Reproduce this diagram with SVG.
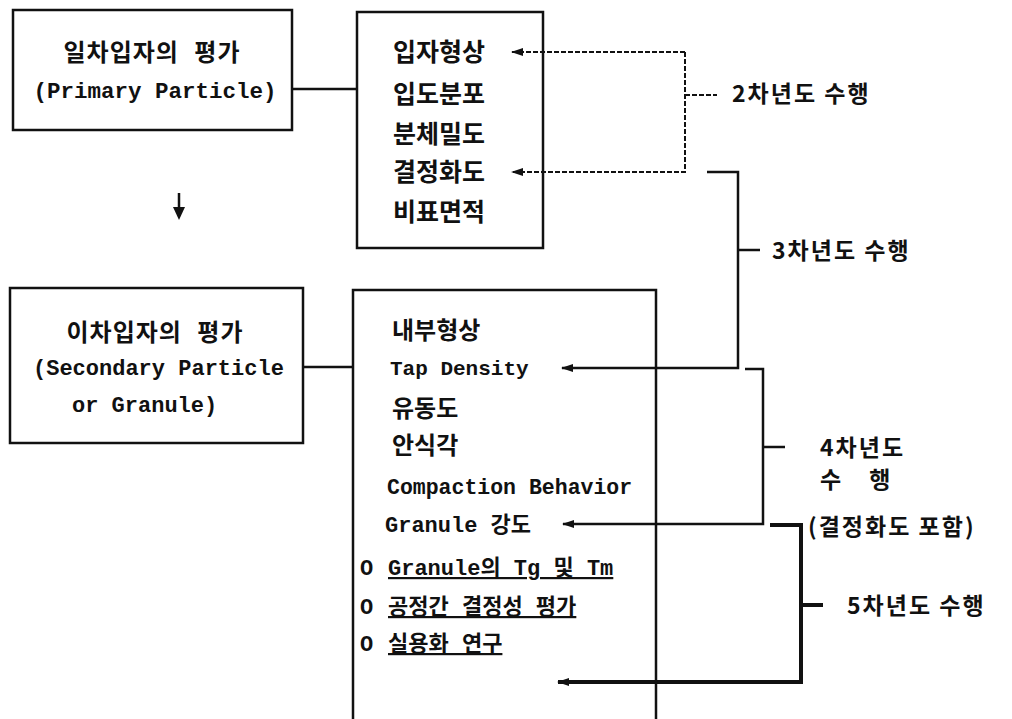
<svg xmlns="http://www.w3.org/2000/svg" width="1012" height="719" viewBox="0 0 1012 719">
<defs>
<style>
.box{fill:none;stroke:#111;stroke-width:2.5}
.ln{fill:none;stroke:#111;stroke-width:2.5}
.dot{fill:none;stroke:#111;stroke-width:2;stroke-dasharray:5 2}
.thick{fill:none;stroke:#111;stroke-width:4}
.ko{font-family:"Liberation Mono","Noto Sans CJK KR",monospace;font-weight:bold;fill:#111}
.en{font-family:"Liberation Mono","Noto Sans CJK KR",monospace;font-weight:bold;fill:#111}
.lab{font-family:"Noto Sans CJK KR","Noto Sans",sans-serif;font-weight:bold;fill:#111;font-size:23px;letter-spacing:2px}
.ul{text-decoration:underline}
</style>
<marker id="ah" viewBox="0 0 12 8" refX="11" refY="4" markerWidth="12" markerHeight="8" markerUnits="userSpaceOnUse" orient="auto">
<path d="M0,0 L12,4 L0,8 Z" fill="#111"/>
</marker>
</defs>

<g id="connectors">
<line class="ln" x1="292" y1="89" x2="357" y2="89"/>
<line class="ln" x1="303" y1="367" x2="353" y2="367"/>
<line class="ln" x1="179" y1="193" x2="179" y2="210"/>
<path d="M173,207 L185,207 L179,220 Z" fill="#111"/>
<!-- 2nd year -->
<path class="dot" d="M685,52 H512" marker-end="url(#ah)"/>
<path class="dot" d="M685,52 V172 H512" marker-end="url(#ah)"/>
<line class="dot" x1="685" y1="95" x2="717" y2="95"/>
<!-- 3rd year -->
<path class="ln" d="M707,172 H738 V368 H562" marker-end="url(#ah)"/>
<line class="ln" x1="738" y1="250" x2="760" y2="250"/>
<!-- 4th year -->
<path class="ln" d="M745,369 H763 V524 H563" marker-end="url(#ah)"/>
<line class="ln" x1="763" y1="447" x2="785" y2="447"/>
<!-- 5th year -->
<path class="thick" d="M770,525 H801 V682 H558" marker-end="url(#ah)"/>
<line class="thick" x1="801" y1="605" x2="823" y2="605"/>
</g>

<g id="primary">
<rect class="box" x="13" y="10" width="279" height="120"/>
<text class="ko" x="152" y="61" font-size="24" text-anchor="middle" letter-spacing="1">일차입자의 평가</text>
<text class="en" x="155" y="98" font-size="22.5" text-anchor="middle">(Primary Particle)</text>
</g>

<g id="primary-items">
<rect class="box" x="357" y="12" width="186" height="236"/>
<text class="ko" x="393" y="61" font-size="25">입자형상</text>
<text class="ko" x="393" y="103" font-size="25">입도분포</text>
<text class="ko" x="393" y="143" font-size="25">분체밀도</text>
<text class="ko" x="393" y="181" font-size="25">결정화도</text>
<text class="ko" x="393" y="221" font-size="25">비표면적</text>
</g>

<g id="secondary">
<rect class="box" x="10" y="288" width="293" height="155"/>
<text class="ko" x="155" y="341" font-size="24" text-anchor="middle" letter-spacing="1">이차입자의 평가</text>
<text class="en" x="33" y="375" font-size="22">(Secondary Particle</text>
<text class="en" x="72" y="412" font-size="22">or Granule)</text>
</g>

<g id="secondary-items">
<path class="box" d="M353,722 V290 H656 V722"/>
<text class="ko" x="392" y="339" font-size="24">내부형상</text>
<text class="en" x="390" y="375" font-size="21">Tap Density</text>
<text class="ko" x="392" y="417" font-size="24">유동도</text>
<text class="ko" x="392" y="454" font-size="24">안식각</text>
<text class="en" x="387" y="494" font-size="21.5" font-weight="normal">Compaction Behavior</text>
<text class="en" x="385" y="532" font-size="22">Granule 강도</text>
<text class="en" x="360" y="575" font-size="22">O</text>
<text class="en ul" x="388" y="575" font-size="22">Granule의 Tg 및 Tm</text>
<text class="en" x="360" y="614" font-size="22">O</text>
<text class="ko ul" x="388" y="614" font-size="22">공정간 결정성 평가</text>
<text class="en" x="360" y="651" font-size="22">O</text>
<text class="ko ul" x="388" y="651" font-size="22">실용화 연구</text>
</g>

<g id="labels">
<text class="lab" x="732" y="102">2차년도 수행</text>
<text class="lab" x="772" y="259">3차년도 수행</text>
<text class="lab" x="820" y="456">4차년도</text>
<text class="lab" x="820" y="488">수<tspan dx="26">행</tspan></text>
<text class="lab" x="808" y="535">(결정화도 포함)</text>
<text class="lab" x="847" y="614">5차년도 수행</text>
</g>
</svg>
